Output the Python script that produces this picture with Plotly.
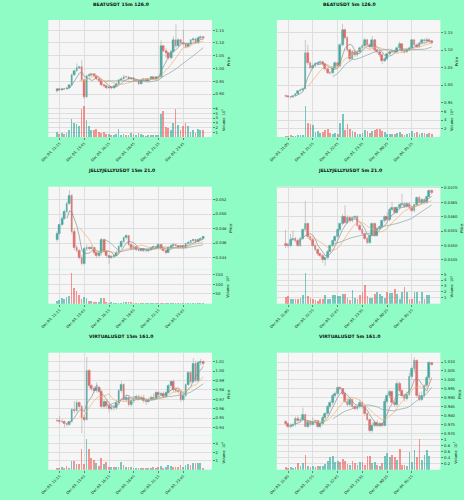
import plotly.graph_objects as go
import pandas as pd

# ---------------- DATA ----------------
titles = ["BEATUSDT 15m 126.0", "BEATUSDT 5m 126.0",
          "JELLYJELLYUSDT 15m 21.0", "JELLYJELLYUSDT 5m 21.0",
          "VIRTUALUSDT 15m 161.0", "VIRTUALUSDT 5m 161.0"]

labels_15m = ["Dec 03, 11:15", "Dec 03, 13:45", "Dec 03, 16:15",
              "Dec 03, 18:45", "Dec 03, 21:15", "Dec 03, 23:45"]
labels_5m = ["Dec 03, 21:05", "Dec 03, 21:55", "Dec 03, 22:45",
             "Dec 03, 23:35", "Dec 04, 00:25", "Dec 04, 01:15"]
label_pos = [1, 11, 21, 31, 41, 51]

# BEAT 15m
beat15_open = [0.912,0.918,0.916,0.921,0.920,0.925,0.935,0.975,0.990,1.003,
               1.005,0.955,0.890,0.970,0.975,0.977,0.970,0.960,0.950,0.935,
               0.930,0.925,0.928,0.922,0.930,0.940,0.955,0.960,0.968,0.965,
               0.958,0.962,0.950,0.955,0.940,0.955,0.958,0.952,0.958,0.965,
               0.960,0.965,0.968,1.088,1.070,1.060,1.040,1.065,1.110,1.090,
               1.110,1.100,1.095,1.085,1.095,1.110,1.115,1.100,1.120,1.125]
beat15_close = [0.918,0.916,0.921,0.920,0.925,0.935,0.975,0.990,1.003,1.005,
                0.955,0.890,0.970,0.975,0.977,0.970,0.960,0.950,0.935,0.930,
                0.925,0.928,0.922,0.930,0.940,0.955,0.960,0.968,0.965,0.958,
                0.962,0.950,0.955,0.940,0.955,0.958,0.952,0.958,0.965,0.960,
                0.965,0.968,1.088,1.070,1.060,1.040,1.065,1.110,1.090,1.110,
                1.100,1.095,1.085,1.095,1.110,1.115,1.100,1.120,1.125,1.118]
beat15_high = [0.922,0.921,0.924,0.924,0.928,0.938,0.980,0.995,1.020,1.010,
               1.033,0.960,0.975,0.982,0.982,0.980,0.972,0.962,0.952,0.940,
               0.934,0.932,0.930,0.934,0.945,0.960,0.966,0.975,0.972,0.968,
               0.966,0.964,0.958,0.957,0.958,0.962,0.960,0.961,0.970,0.968,
               0.968,0.972,1.110,1.092,1.080,1.065,1.075,1.125,1.173,1.118,
               1.115,1.152,1.100,1.100,1.115,1.122,1.118,1.126,1.130,1.128]
beat15_low = [0.905,0.912,0.913,0.916,0.917,0.922,0.932,0.970,0.985,0.996,
              0.950,0.880,0.885,0.965,0.970,0.966,0.955,0.945,0.930,0.926,
              0.920,0.921,0.918,0.920,0.928,0.938,0.952,0.957,0.962,0.954,
              0.955,0.946,0.948,0.936,0.938,0.952,0.948,0.950,0.955,0.956,
              0.957,0.962,0.962,1.065,1.040,1.035,1.035,1.060,1.080,1.085,
              1.095,1.088,1.078,1.082,1.090,1.105,1.096,1.096,1.115,1.112]
beat15_vol = [1.1,0.7,0.9,0.7,0.9,1.4,3.9,3.0,2.7,2.3,
              5.9,6.6,3.6,2.4,1.4,1.4,1.8,1.1,0.9,1.1,
              0.7,0.6,0.5,0.4,0.6,1.6,0.5,0.6,0.4,0.5,
              0.9,0.6,0.4,0.9,0.7,0.4,0.3,0.4,0.4,0.4,
              0.4,0.4,4.9,5.5,2.1,1.9,1.4,2.9,5.9,2.5,
              1.4,2.4,2.9,2.3,1.1,1.4,0.9,1.8,1.4,1.4]

# BEAT 5m
beat5_open = [0.970,0.968,0.967,0.965,0.970,0.975,0.983,0.986,0.990,1.092,
              1.063,1.050,1.056,1.060,1.063,1.067,1.060,1.046,1.036,1.034,
              1.050,1.062,1.055,1.115,1.158,1.135,1.100,1.075,1.095,1.085,
              1.095,1.105,1.112,1.128,1.115,1.108,1.128,1.100,1.095,1.085,
              1.070,1.075,1.090,1.095,1.098,1.095,1.105,1.118,1.098,1.095,
              1.100,1.105,1.128,1.115,1.110,1.120,1.128,1.125,1.130,1.125]
beat5_close = [0.968,0.967,0.965,0.970,0.975,0.983,0.986,0.990,1.092,1.063,
               1.050,1.056,1.060,1.063,1.067,1.060,1.046,1.036,1.034,1.050,
               1.062,1.055,1.115,1.158,1.135,1.100,1.075,1.095,1.085,1.095,
               1.105,1.112,1.128,1.115,1.108,1.128,1.100,1.095,1.085,1.070,
               1.075,1.090,1.095,1.098,1.095,1.105,1.118,1.098,1.095,1.100,
               1.105,1.128,1.115,1.110,1.120,1.128,1.125,1.130,1.125,1.120]
beat5_high = [0.973,0.971,0.969,0.972,0.978,0.986,0.990,0.993,1.129,1.115,
              1.068,1.062,1.064,1.067,1.071,1.070,1.063,1.050,1.040,1.054,
              1.068,1.065,1.120,1.175,1.162,1.140,1.104,1.100,1.098,1.099,
              1.110,1.118,1.135,1.132,1.120,1.140,1.132,1.104,1.098,1.090,
              1.080,1.094,1.099,1.104,1.102,1.110,1.124,1.120,1.102,1.104,
              1.110,1.132,1.130,1.119,1.124,1.132,1.133,1.136,1.134,1.128]
beat5_low = [0.965,0.964,0.962,0.963,0.968,0.973,0.981,0.984,0.988,1.058,
             1.045,1.047,1.052,1.056,1.060,1.056,1.042,1.032,1.030,1.031,
             1.047,1.050,1.052,1.110,1.130,1.096,1.070,1.072,1.080,1.082,
             1.092,1.100,1.108,1.110,1.104,1.104,1.096,1.090,1.080,1.060,
             1.066,1.072,1.086,1.092,1.090,1.092,1.100,1.094,1.090,1.092,
             1.097,1.102,1.110,1.106,1.107,1.116,1.120,1.121,1.120,1.116]
beat5_vol = [0.2,0.2,0.5,0.25,0.3,0.4,0.4,0.4,7.4,3.4,
             3.0,2.8,1.2,1.4,0.95,1.2,1.6,1.8,0.95,0.8,
             0.95,0.8,3.4,5.4,1.6,3.0,2.0,1.4,1.2,0.65,
             0.8,0.95,1.6,1.35,0.95,1.35,1.75,1.9,1.9,1.4,
             1.1,0.65,0.8,0.65,0.8,0.95,1.2,0.8,0.4,0.8,
             0.95,1.4,0.95,1.1,0.8,0.95,0.95,0.65,0.95,0.65]

# JELLYJELLY 15m
jelly15_open = [0.0465,0.0473,0.0485,0.0494,0.0503,0.0515,0.0526,0.0475,0.0453,0.0450,
                0.0440,0.0432,0.0452,0.0454,0.0452,0.0454,0.0446,0.0442,0.0446,0.0465,
                0.0448,0.0442,0.0440,0.0441,0.0443,0.0447,0.0455,0.0462,0.0467,0.0470,
                0.0457,0.0452,0.0455,0.0451,0.0450,0.0452,0.0449,0.0449,0.0451,0.0454,
                0.0455,0.0453,0.0457,0.0452,0.0450,0.0447,0.0453,0.0456,0.0458,0.0456,
                0.0454,0.0456,0.0453,0.0459,0.0461,0.0463,0.0464,0.0462,0.0465,0.0466]
jelly15_close = [0.0473,0.0485,0.0494,0.0503,0.0515,0.0526,0.0475,0.0453,0.0450,0.0440,
                 0.0432,0.0452,0.0454,0.0452,0.0454,0.0446,0.0442,0.0446,0.0465,0.0448,
                 0.0442,0.0440,0.0441,0.0443,0.0447,0.0455,0.0462,0.0467,0.0470,0.0457,
                 0.0452,0.0455,0.0451,0.0450,0.0452,0.0449,0.0449,0.0451,0.0454,0.0455,
                 0.0453,0.0457,0.0452,0.0450,0.0447,0.0453,0.0456,0.0458,0.0456,0.0454,
                 0.0456,0.0453,0.0459,0.0461,0.0463,0.0464,0.0462,0.0465,0.0466,0.0469]
jelly15_high = [0.0476,0.0487,0.0497,0.0506,0.0518,0.0533,0.0528,0.0480,0.0457,0.0452,
                0.0443,0.0455,0.0458,0.0456,0.0457,0.0455,0.0448,0.0448,0.0467,0.0466,
                0.0450,0.0444,0.0443,0.0445,0.0449,0.0457,0.0464,0.0469,0.0472,0.0471,
                0.0459,0.0457,0.0456,0.0453,0.0453,0.0453,0.0451,0.0452,0.0455,0.0457,
                0.0456,0.0460,0.0458,0.0453,0.0451,0.0455,0.0458,0.0460,0.0459,0.0457,
                0.0457,0.0457,0.0460,0.0463,0.0464,0.0466,0.0465,0.0466,0.0468,0.0470]
jelly15_low = [0.0462,0.0471,0.0483,0.0492,0.0501,0.0513,0.0472,0.0450,0.0447,0.0437,
               0.0429,0.0430,0.0449,0.0450,0.0450,0.0444,0.0439,0.0440,0.0443,0.0446,
               0.0439,0.0431,0.0438,0.0439,0.0441,0.0445,0.0453,0.0460,0.0465,0.0455,
               0.0450,0.0450,0.0449,0.0448,0.0448,0.0447,0.0447,0.0447,0.0449,0.0452,
               0.0451,0.0451,0.0450,0.0448,0.0444,0.0446,0.0451,0.0454,0.0454,0.0452,
               0.0452,0.0451,0.0452,0.0458,0.0460,0.0461,0.0460,0.0461,0.0463,0.0465]
jelly15_vol = [14,23,32,27,36,41,161,80,68,45,
               27,36,29,14,14,9,9,9,29,30,
               9,5,9,5,5,7,7,9,12,12,
               9,5,5,5,5,5,4,5,5,4,
               5,5,4,5,7,5,5,4,5,5,
               4,5,5,4,5,4,5,4,5,4]

# JELLYJELLY 5m
jelly5_open = [0.04505,0.04502,0.04498,0.04520,0.04525,0.04518,0.04500,0.04525,0.04555,0.04575,
               0.04530,0.04520,0.04500,0.04485,0.04470,0.04465,0.04450,0.04458,0.04480,0.04500,
               0.04515,0.04530,0.04555,0.04575,0.04600,0.04580,0.04598,0.04585,0.04595,0.04600,
               0.04570,0.04555,0.04540,0.04525,0.04510,0.04535,0.04575,0.04535,0.04560,0.04565,
               0.04585,0.04600,0.04590,0.04625,0.04630,0.04615,0.04630,0.04640,0.04645,0.04635,
               0.04645,0.04630,0.04620,0.04640,0.04665,0.04650,0.04660,0.04650,0.04670,0.04690]
jelly5_close = [0.04500,0.04498,0.04520,0.04525,0.04518,0.04500,0.04525,0.04555,0.04575,0.04530,
                0.04520,0.04500,0.04485,0.04470,0.04465,0.04450,0.04458,0.04480,0.04500,0.04515,
                0.04530,0.04555,0.04575,0.04600,0.04580,0.04598,0.04585,0.04595,0.04600,0.04570,
                0.04555,0.04540,0.04525,0.04510,0.04535,0.04575,0.04535,0.04560,0.04565,0.04585,
                0.04600,0.04590,0.04625,0.04630,0.04615,0.04630,0.04640,0.04645,0.04635,0.04645,
                0.04630,0.04620,0.04640,0.04665,0.04650,0.04660,0.04650,0.04670,0.04690,0.04682]
jelly5_high = [0.04554,0.04510,0.04540,0.04552,0.04530,0.04525,0.04530,0.04560,0.04655,0.04580,
               0.04535,0.04525,0.04505,0.04490,0.04475,0.04470,0.04462,0.04485,0.04505,0.04520,
               0.04535,0.04560,0.04580,0.04610,0.04640,0.04605,0.04602,0.04600,0.04605,0.04605,
               0.04575,0.04560,0.04545,0.04530,0.04540,0.04580,0.04580,0.04565,0.04570,0.04590,
               0.04605,0.04615,0.04630,0.04650,0.04635,0.04635,0.04645,0.04680,0.04650,0.04650,
               0.04650,0.04635,0.04645,0.04670,0.04672,0.04665,0.04665,0.04675,0.04695,0.04695]
jelly5_low = [0.04490,0.04492,0.04494,0.04515,0.04512,0.04495,0.04495,0.04520,0.04550,0.04525,
              0.04515,0.04495,0.04480,0.04465,0.04458,0.04440,0.04430,0.04452,0.04475,0.04495,
              0.04510,0.04525,0.04550,0.04570,0.04575,0.04575,0.04580,0.04580,0.04590,0.04565,
              0.04550,0.04535,0.04520,0.04505,0.04505,0.04530,0.04530,0.04530,0.04555,0.04560,
              0.04580,0.04585,0.04585,0.04620,0.04610,0.04610,0.04625,0.04635,0.04630,0.04630,
              0.04625,0.04615,0.04615,0.04635,0.04645,0.04645,0.04645,0.04645,0.04665,0.04678]
jelly5_vol = [1.2,1.35,0.9,0.8,0.8,0.9,1.05,1.5,5.2,1.35,
              0.95,0.9,0.65,0.5,0.8,0.8,1.5,0.9,0.9,1.5,
              1.5,1.35,1.35,1.65,1.65,0.95,0.65,2.35,1.0,0.9,
              1.5,1.95,3.25,1.35,0.95,0.95,1.65,2.1,1.65,1.35,
              0.95,2.1,1.8,1.8,2.5,1.75,0.9,2.1,2.8,2.1,
              0.9,0.8,1.95,1.95,0.5,1.95,0.9,1.5,1.5,0.05]

# VIRTUAL 15m
virt15_open = [0.9475,0.9470,0.9460,0.9465,0.9435,0.9430,0.9465,0.9590,0.9580,0.9660,
               0.9620,0.9500,0.9485,1.0005,0.9840,0.9810,0.9790,0.9820,0.9780,0.9620,
               0.9670,0.9630,0.9600,0.9615,0.9610,0.9660,0.9790,0.9850,0.9690,0.9720,
               0.9640,0.9680,0.9710,0.9730,0.9710,0.9720,0.9680,0.9670,0.9700,0.9720,
               0.9710,0.9770,0.9750,0.9760,0.9730,0.9770,0.9840,0.9890,0.9800,0.9790,
               0.9780,0.9690,0.9740,0.9850,0.9980,0.9890,1.0080,0.9900,1.0090,1.0095]
virt15_close = [0.9470,0.9460,0.9465,0.9435,0.9430,0.9465,0.9590,0.9580,0.9660,0.9620,
                0.9500,0.9485,1.0005,0.9840,0.9810,0.9790,0.9820,0.9780,0.9620,0.9670,
                0.9630,0.9600,0.9615,0.9610,0.9660,0.9790,0.9850,0.9690,0.9720,0.9640,
                0.9680,0.9710,0.9730,0.9710,0.9720,0.9680,0.9670,0.9700,0.9720,0.9710,
                0.9770,0.9750,0.9760,0.9730,0.9770,0.9840,0.9890,0.9800,0.9790,0.9780,
                0.9690,0.9740,0.9850,0.9980,0.9890,1.0080,0.9900,1.0090,1.0095,1.0080]
virt15_high = [0.9500,0.9520,0.9490,0.9475,0.9445,0.9475,0.9610,0.9680,0.9690,0.9675,
               0.9640,0.9530,1.0150,1.0020,0.9860,0.9840,0.9880,0.9840,0.9800,0.9700,
               0.9690,0.9650,0.9640,0.9640,0.9690,0.9810,0.9890,0.9870,0.9750,0.9740,
               0.9700,0.9730,0.9750,0.9750,0.9740,0.9750,0.9700,0.9720,0.9740,0.9760,
               0.9790,0.9790,0.9780,0.9780,0.9790,0.9860,0.9900,0.9910,0.9830,0.9810,
               0.9800,0.9770,0.9870,1.0000,1.0000,1.0135,1.0110,1.0110,1.0130,1.0110]
virt15_low = [0.9455,0.9440,0.9450,0.9400,0.9410,0.9420,0.9450,0.9550,0.9560,0.9600,
              0.9340,0.9460,0.9470,0.9820,0.9790,0.9770,0.9770,0.9760,0.9600,0.9600,
              0.9600,0.9560,0.9580,0.9580,0.9590,0.9640,0.9770,0.9680,0.9670,0.9620,
              0.9620,0.9660,0.9690,0.9690,0.9700,0.9660,0.9640,0.9660,0.9690,0.9690,
              0.9700,0.9730,0.9740,0.9710,0.9720,0.9760,0.9820,0.9780,0.9770,0.9760,
              0.9670,0.9680,0.9720,0.9840,0.9870,0.9870,0.9880,0.9880,1.0060,1.0060]
virt15_vol = [0.27,0.27,0.38,0.27,0.46,0.27,1.08,1.04,0.7,0.65,
              2.4,0.65,3.5,2.4,1.4,1.15,0.77,0.46,1.35,0.69,
              0.96,0.38,0.38,0.38,0.31,0.38,0.88,0.58,0.31,0.38,
              0.38,0.19,0.27,0.27,0.19,0.27,0.19,0.27,0.19,0.31,
              0.27,0.38,0.46,0.27,0.38,0.58,0.46,0.38,0.31,0.38,
              0.58,0.38,0.58,0.65,0.58,0.77,0.85,0.85,0.77,0.19]

# VIRTUAL 5m
virt5_open = [0.9765,0.9755,0.9740,0.9745,0.9750,0.9785,0.9770,0.9780,0.9805,0.9740,
              0.9765,0.9750,0.9765,0.9770,0.9740,0.9755,0.9790,0.9810,0.9850,0.9870,
              0.9910,0.9925,0.9955,0.9950,0.9925,0.9880,0.9860,0.9890,0.9850,0.9840,
              0.9850,0.9870,0.9850,0.9810,0.9780,0.9715,0.9745,0.9760,0.9745,0.9755,
              0.9745,0.9880,0.9910,0.9935,0.9875,0.9860,0.9980,0.9940,0.9910,0.9895,
              0.9920,1.0020,1.0060,1.0110,0.9910,0.9890,0.9910,0.9965,1.0010,1.0095]
virt5_close = [0.9755,0.9740,0.9745,0.9750,0.9785,0.9770,0.9780,0.9805,0.9740,0.9765,
               0.9750,0.9765,0.9770,0.9740,0.9755,0.9790,0.9810,0.9850,0.9870,0.9910,
               0.9925,0.9955,0.9950,0.9925,0.9880,0.9860,0.9890,0.9850,0.9840,0.9850,
               0.9870,0.9850,0.9810,0.9780,0.9715,0.9745,0.9760,0.9745,0.9755,0.9745,
               0.9880,0.9910,0.9935,0.9875,0.9860,0.9980,0.9940,0.9910,0.9895,0.9920,
               1.0020,1.0060,1.0110,0.9910,0.9890,0.9910,0.9965,1.0010,1.0095,1.0085]
virt5_high = [0.9775,0.9760,0.9755,0.9760,0.9795,0.9800,0.9790,0.9845,0.9810,0.9775,
              0.9775,0.9790,0.9780,0.9775,0.9765,0.9800,0.9820,0.9860,0.9885,0.9920,
              0.9935,0.9966,0.9965,0.9955,0.9935,0.9895,0.9900,0.9895,0.9860,0.9860,
              0.9890,0.9880,0.9855,0.9820,0.9785,0.9760,0.9775,0.9775,0.9765,0.9765,
              0.9895,0.9925,0.9945,0.9940,0.9885,0.9995,0.9990,0.9950,0.9920,0.9935,
              1.0040,1.0075,1.0127,1.0115,0.9930,0.9935,0.9975,1.0025,1.0105,1.0100]
virt5_low = [0.9745,0.9730,0.9730,0.9735,0.9740,0.9760,0.9760,0.9770,0.9735,0.9730,
             0.9740,0.9745,0.9755,0.9730,0.9730,0.9745,0.9780,0.9800,0.9840,0.9860,
             0.9900,0.9915,0.9940,0.9915,0.9870,0.9850,0.9850,0.9840,0.9830,0.9830,
             0.9840,0.9840,0.9800,0.9770,0.9705,0.9705,0.9735,0.9735,0.9735,0.9735,
             0.9740,0.9870,0.9900,0.9870,0.9850,0.9850,0.9930,0.9900,0.9880,0.9885,
             0.9910,1.0000,1.0040,0.9900,0.9880,0.9880,0.9900,0.9955,0.9995,1.0080]
virt5_vol = [0.11,0.06,0.09,0.06,0.11,0.23,0.15,0.23,0.49,0.15,
             0.11,0.15,0.09,0.15,0.15,0.15,0.2,0.29,0.43,0.48,
             0.26,0.29,0.26,0.38,0.29,0.2,0.18,0.3,0.23,0.18,
             0.26,0.26,0.17,0.46,0.46,0.23,0.26,0.18,0.15,0.23,
             0.46,0.57,0.43,0.49,0.43,0.34,0.69,0.18,0.17,0.15,
             0.62,0.26,0.66,0.43,1.03,0.34,0.49,0.66,0.46,0.01]

# axis tick values
beat15_pticks = [0.90, 0.95, 1.00, 1.05, 1.10, 1.15]
beat5_pticks = [0.95, 1.00, 1.05, 1.10, 1.15]
jelly15_pticks = [0.044, 0.046, 0.048, 0.050, 0.052]
jelly5_pticks = [0.0445, 0.0450, 0.0455, 0.0460, 0.0465, 0.0470]
virt15_pticks = [0.94, 0.95, 0.96, 0.97, 0.98, 0.99, 1.00, 1.01]
virt5_pticks = [0.970, 0.975, 0.980, 0.985, 0.990, 0.995, 1.000, 1.005, 1.010]

beat15_vticks = [1, 2, 3, 4, 5, 6]
beat5_vticks = [2, 4, 6]
jelly15_vticks = [50, 100, 150]
jelly5_vticks = [1, 2, 3, 4, 5]
virt15_vticks = [1, 2, 3]
virt5_vticks = [0.2, 0.4, 0.6, 0.8, 1.0]

vol_exponents = [5, 4, 5, 5, 6, 7]
ma_windows = [5, 10, 20]

# ---------------- STYLE ----------------
BG = "#8ffcc5"
PLOT_BG = "#f6f6f6"
GRID = "#dedede"
UP = "#26a69a"
DOWN = "#ef5350"
UP_V = "rgba(38,166,154,0.6)"
DOWN_V = "rgba(239,83,80,0.6)"
WICK = "#a8a8a8"
MA_COLORS = ["#8c8c8c", "#f2b070", "#8fa3a3"]
FONT = "DejaVu Sans"
TICK_FS = 3.8
W, H = 464, 500

charts = [
    (beat15_open, beat15_high, beat15_low, beat15_close, beat15_vol, labels_15m,
     beat15_pticks, ".2f", [0.865, 1.19], beat15_vticks, [0, 7.2]),
    (beat5_open, beat5_high, beat5_low, beat5_close, beat5_vol, labels_5m,
     beat5_pticks, ".2f", [0.949, 1.186], beat5_vticks, [0, 8.0]),
    (jelly15_open, jelly15_high, jelly15_low, jelly15_close, jelly15_vol, labels_15m,
     jelly15_pticks, ".3f", [0.0423, 0.0538], jelly15_vticks, [0, 175]),
    (jelly5_open, jelly5_high, jelly5_low, jelly5_close, jelly5_vol, labels_5m,
     jelly5_pticks, ".4f", [0.04416, 0.04704], jelly5_vticks, [0, 5.76]),
    (virt15_open, virt15_high, virt15_low, virt15_close, virt15_vol, labels_15m,
     virt15_pticks, ".2f", [0.9312, 1.0195], virt15_vticks, [0, 3.9]),
    (virt5_open, virt5_high, virt5_low, virt5_close, virt5_vol, labels_5m,
     virt5_pticks, ".3f", [0.9688, 1.0152], virt5_vticks, [0, 1.14]),
]

col_x = [(42, 208), (274, 440)]
row_top = [20, 186.7, 352.7]
title_y = [4, 170, 336]
PRICE_H, VOL_H = 83, 34
XRANGE = [-3.5, 62.5]

fig = go.Figure()
layout = dict(
    width=W, height=H, margin=dict(l=0, r=0, t=0, b=0),
    paper_bgcolor=BG, plot_bgcolor=PLOT_BG, showlegend=False,
    font=dict(family=FONT, size=TICK_FS, color="#222222"),
    bargap=0.0,
)
annotations = []

for k, (o, h, l, c, v, xl, pt, pfmt, prange, vt, vrange) in enumerate(charts):
    row, col = divmod(k, 2)
    a, b = 2 * k + 1, 2 * k + 2
    xa = "x" if a == 1 else f"x{a}"
    ya = "y" if a == 1 else f"y{a}"
    xb, yb = f"x{b}", f"y{b}"
    n = len(c)
    idx = list(range(n))
    x0, x1 = col_x[col]
    top = row_top[row]
    xdom = [x0 / W, x1 / W]
    pdom = [1 - (top + PRICE_H) / H, 1 - top / H]
    vdom = [1 - (top + PRICE_H + VOL_H) / H, 1 - (top + PRICE_H) / H]

    up = [c[i] >= o[i] for i in idx]

    # wicks
    wx, wy = [], []
    for i in idx:
        wx += [i, i, None]
        wy += [l[i], h[i], None]
    fig.add_trace(go.Scatter(x=wx, y=wy, mode="lines", xaxis=xa, yaxis=ya,
                             line=dict(color=WICK, width=0.6), hoverinfo="skip"))
    # moving averages
    cs = pd.Series(c)
    for w, mc in zip(ma_windows, MA_COLORS):
        fig.add_trace(go.Scatter(x=idx, y=cs.rolling(w).mean(), mode="lines",
                                 xaxis=xa, yaxis=ya,
                                 line=dict(color=mc, width=0.7), hoverinfo="skip"))
    # bodies
    body_base = [min(o[i], c[i]) for i in idx]
    body_h = [abs(c[i] - o[i]) for i in idx]
    bcol = [UP if u else DOWN for u in up]
    fig.add_trace(go.Bar(x=idx, y=body_h, base=body_base, xaxis=xa, yaxis=ya,
                         width=0.72, marker=dict(color=bcol, line=dict(color=bcol, width=0.4))))
    # volume
    vcol = [UP_V if u else DOWN_V for u in up]
    fig.add_trace(go.Bar(x=idx, y=v, xaxis=xb, yaxis=yb, width=0.72,
                         marker=dict(color=vcol, line=dict(width=0))))

    common_x = dict(domain=xdom, range=XRANGE, tickvals=label_pos, showgrid=True,
                    gridcolor=GRID, gridwidth=0.6, zeroline=False, ticks="outside",
                    ticklen=2, tickwidth=0.5, tickcolor="#777777", showline=False)
    layout["xaxis" if a == 1 else f"xaxis{a}"] = dict(common_x, anchor=ya, showticklabels=False, ticks="")
    layout[f"xaxis{b}"] = dict(common_x, anchor=yb, ticktext=xl, tickangle=-45,
                               tickfont=dict(size=3.6))
    common_y = dict(side="right", showgrid=True, gridcolor=GRID, gridwidth=0.6,
                    zeroline=False, ticks="outside", ticklen=2, tickwidth=0.5,
                    tickcolor="#777777", automargin=False)
    layout["yaxis" if a == 1 else f"yaxis{a}"] = dict(
        common_y, domain=pdom, anchor=xa, range=prange, tickvals=pt, tickformat=pfmt,
        title=dict(text="Price", font=dict(size=3.8), standoff=3))
    layout[f"yaxis{b}"] = dict(
        common_y, domain=vdom, anchor=xb, range=vrange, tickvals=vt,
        title=dict(text=f"Volume  10<sup>{vol_exponents[k]}</sup>", font=dict(size=3.6), standoff=4))

    annotations.append(dict(text=f"<b>{titles[k]}</b>", x=(0.25 if col == 0 else 0.75),
                            y=1 - title_y[row] / H, xref="paper", yref="paper",
                            showarrow=False, font=dict(size=4.6, color="#111111"),
                            xanchor="center", yanchor="middle"))

layout["annotations"] = annotations
fig.update_layout(**layout)
fig.write_html("out.html")
